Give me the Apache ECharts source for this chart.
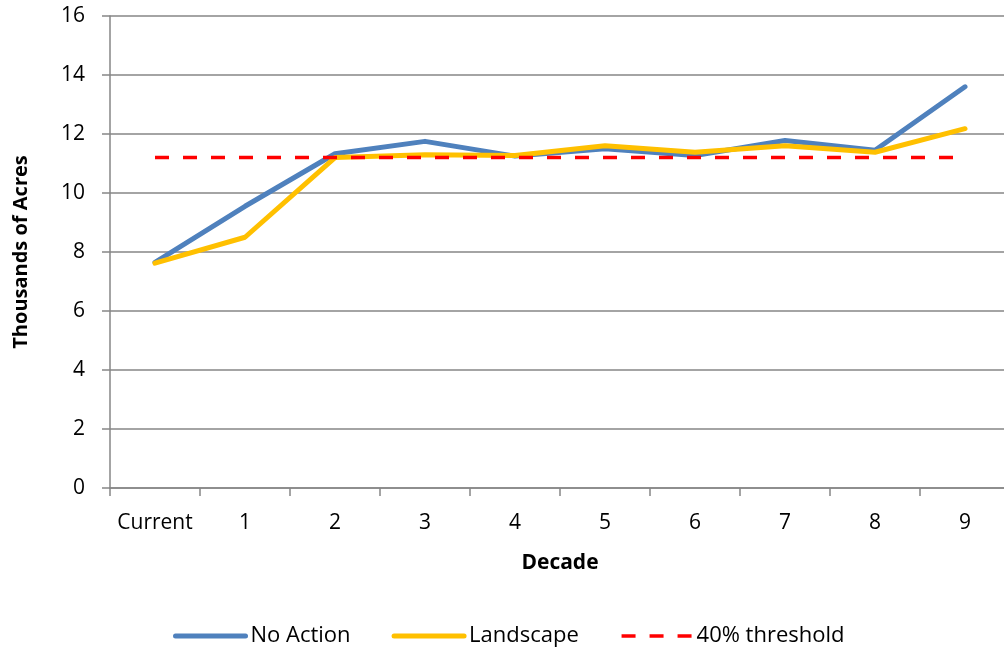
<!DOCTYPE html>
<html>
<head>
<meta charset="utf-8">
<script src="https://cdn.jsdelivr.net/npm/echarts@6/dist/echarts.min.js"></script>
<style>html,body{margin:0;padding:0;background:#fff}#c{width:1004px;height:652px}</style>
</head>
<body>
<div id="c"></div>
<script>
var categories = ['Current','1','2','3','4','5','6','7','8','9'];
var noAction = [7.65, 9.55, 11.33, 11.75, 11.25, 11.5, 11.27, 11.78, 11.45, 13.6];
var landscape = [7.62, 8.5, 11.2, 11.3, 11.27, 11.6, 11.38, 11.6, 11.38, 12.18];
var threshold = [11.2, 11.2, 11.2, 11.2, 11.2, 11.2, 11.2, 11.2, 11.2, 11.2];
var yTicks = [0, 2, 4, 6, 8, 10, 12, 14, 16];

var font = 'Open Sans';
var blue = '#4F81BD', yellow = '#FFC000', red = '#FF0000';
var chart = echarts.init(document.getElementById('c'), null, {renderer:'canvas'});
chart.setOption({
  animation: false,
  textStyle: {fontFamily: font, color: '#000'},
  grid: {left: 110, top: 16, width: 900, height: 472, containLabel: false, outerBoundsMode: 'none'},
  xAxis: {
    type: 'category',
    data: categories,
    boundaryGap: true,
    name: 'Decade',
    nameLocation: 'middle',
    nameGap: 65,
    nameTextStyle: {fontFamily: font, fontWeight: 'bold', fontSize: 21, color: '#000'},
    axisLine: {lineStyle: {color: '#868686', width: 1.5}},
    axisTick: {show: true, length: 8, inside: false, lineStyle: {color: '#868686', width: 1.5}},
    axisLabel: {fontFamily: font, fontSize: 21, color: '#000', margin: 25, interval: 0},
    splitLine: {show: false}
  },
  yAxis: {
    type: 'value',
    min: yTicks[0],
    max: yTicks[yTicks.length - 1],
    interval: 2,
    name: 'Thousands of Acres',
    nameLocation: 'middle',
    nameGap: 79,
    nameRotate: 90,
    nameTextStyle: {fontFamily: font, fontWeight: 'bold', fontSize: 20, color: '#000'},
    axisLine: {show: true, lineStyle: {color: '#868686', width: 1.5}},
    axisTick: {show: true, length: 8, inside: false, lineStyle: {color: '#868686', width: 1.5}},
    axisLabel: {fontFamily: font, fontSize: 21, color: '#000', margin: 25},
    splitLine: {show: true, lineStyle: {color: '#868686', width: 1.5}}
  },
  legend: {
    bottom: 0,
    left: 168,
    itemWidth: 70,
    itemHeight: 12,
    itemGap: 41,
    textStyle: {fontFamily: font, fontSize: 22, color: '#000'},
    itemStyle: {opacity: 0},
    data: [
      {name: 'No Action', itemStyle: {opacity: 0}, lineStyle: {color: blue, width: 5, cap: 'round'}},
      {name: 'Landscape', itemStyle: {opacity: 0}, lineStyle: {color: yellow, width: 5, cap: 'round'}},
      {name: '40% threshold', itemStyle: {opacity: 0}, lineStyle: {color: red, width: 3.5, type: [14, 14]}}
    ]
  },
  series: [
    {
      name: 'No Action', type: 'line', data: noAction, symbol: 'none',
      lineStyle: {color: blue, width: 5, cap: 'round', join: 'round'},
      itemStyle: {color: blue}, z: 2
    },
    {
      name: 'Landscape', type: 'line', data: landscape, symbol: 'none',
      lineStyle: {color: yellow, width: 5, cap: 'round', join: 'round'},
      itemStyle: {color: yellow}, z: 3
    },
    {
      name: '40% threshold', type: 'line', data: threshold, symbol: 'none',
      lineStyle: {color: red, width: 3.5, type: [14, 14]},
      itemStyle: {color: red}, z: 4
    }
  ]
});
</script>
</body>
</html>
